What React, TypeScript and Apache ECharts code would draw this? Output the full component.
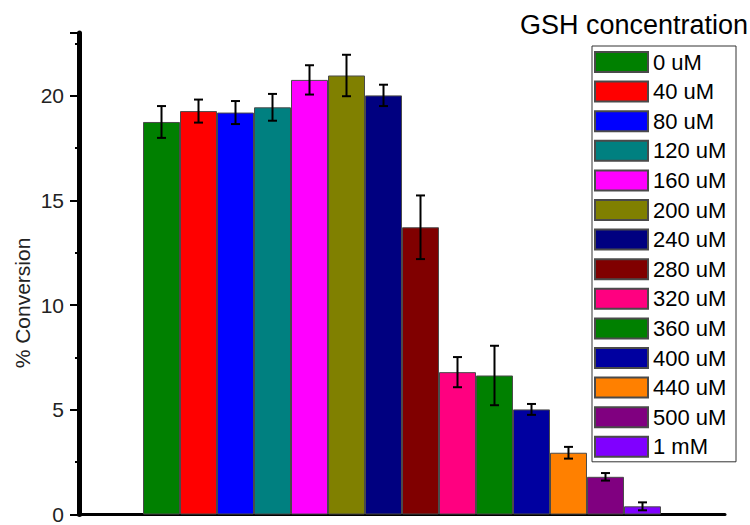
import React, { useEffect, useRef } from "react";
import * as echarts from "echarts";

// GSH concentrations (legend entries), in bar order
const concentrations = [
  "0 uM", "40 uM", "80 uM", "120 uM", "160 uM", "200 uM", "240 uM",
  "280 uM", "320 uM", "360 uM", "400 uM", "440 uM", "500 uM", "1 mM",
];

// Mean % conversion per concentration
const conversion = [18.75, 19.27, 19.2, 19.45, 20.76, 20.97, 20.02, 13.72, 6.8, 6.64, 5.02, 2.95, 1.8, 0.39];

// Error (± half-range) per concentration
const errors = [0.76, 0.55, 0.55, 0.64, 0.7, 0.99, 0.51, 1.52, 0.72, 1.42, 0.26, 0.28, 0.18, 0.19];

const barColors = [
  "#008000", "#FF0000", "#0000FF", "#008080", "#FF00FF", "#808000", "#000080",
  "#800000", "#FF0080", "#008000", "#0000A0", "#FF8000", "#800080", "#8000FF",
];

const yTicks = { min: 0, max: 23, interval: 5 };

const FONT = "'Liberation Sans', Arial, sans-serif";

export default function App() {
  const ref = useRef<HTMLDivElement>(null);

  useEffect(() => {
    if (!ref.current) return;
    const chart = echarts.init(ref.current, null, { renderer: "svg" });

    const barSeries = concentrations.map((name, i) => ({
      name,
      type: "bar",
      data: [[i, conversion[i]]],
      barWidth: 37,
      barGap: "-100%",
      itemStyle: { color: barColors[i], borderColor: "#4a4a4a", borderWidth: 1 },
      z: 2,
    }));

    const errorData = conversion.map((v, i) => [i, v - errors[i], v + errors[i]]);

    const option: any = {
      animation: false,
      backgroundColor: "#ffffff",
      textStyle: { fontFamily: FONT },
      title: {
        text: "GSH concentration",
        right: 2,
        top: 11,
        padding: 0,
        textStyle: { fontFamily: FONT, fontSize: 27, fontWeight: "normal", color: "#000" },
      },
      legend: {
        orient: "vertical",
        left: 592,
        top: 46,
        data: concentrations,
        icon: "rect",
        itemWidth: 53,
        itemHeight: 20,
        itemGap: 7.6,
        padding: [5, 5, 4, 2],
        borderColor: "#333",
        borderWidth: 1,
        backgroundColor: "#ffffff",
        selectedMode: false,
        z: 10,
        textStyle: { fontFamily: FONT, fontSize: 22, color: "#000", lineHeight: 20, height: 20, width: 78 },
      },
      grid: { left: 79, right: 25, top: 33, bottom: 6, containLabel: false },
      xAxis: {
        type: "value",
        min: -2.23,
        max: 15.23,
        axisLine: { show: true, onZero: false, lineStyle: { color: "#000", width: 3 } },
        axisTick: { show: false },
        axisLabel: { show: false },
        splitLine: { show: false },
      },
      yAxis: {
        type: "value",
        position: "left",
        min: yTicks.min,
        max: yTicks.max,
        interval: yTicks.interval,
        z: 3,
        axisLine: { show: true, onZero: false, lineStyle: { color: "#000", width: 5 } },
        axisTick: { show: true, length: 9, lineStyle: { color: "#000", width: 2 } },
        minorTick: { show: true, splitNumber: 2, length: 4, lineStyle: { color: "#000", width: 2 } },
        axisLabel: { fontFamily: FONT, fontSize: 21, color: "#222", margin: 15, showMaxLabel: false },
        splitLine: { show: false },
      },
      graphic: [
        {
          type: "text",
          x: 22,
          y: 303,
          rotation: Math.PI / 2,
          style: {
            text: "% Conversion",
            fontFamily: FONT,
            fontSize: 21,
            fill: "#222",
            align: "center",
            verticalAlign: "middle",
          },
        },
      ],
      series: [
        ...barSeries,
        {
          name: "error",
          type: "custom",
          data: errorData,
          z: 5,
          renderItem: (_params: any, api: any) => {
            const x = api.value(0);
            const lo = api.coord([x, api.value(1)]);
            const hi = api.coord([x, api.value(2)]);
            const cap = 4.5;
            const style = { stroke: "#000", lineWidth: 2 };
            return {
              type: "group",
              children: [
                { type: "line", shape: { x1: lo[0], y1: lo[1], x2: hi[0], y2: hi[1] }, style },
                { type: "line", shape: { x1: hi[0] - cap, y1: hi[1], x2: hi[0] + cap, y2: hi[1] }, style },
                { type: "line", shape: { x1: lo[0] - cap, y1: lo[1], x2: lo[0] + cap, y2: lo[1] }, style },
              ],
            };
          },
        },
      ],
    };

    chart.setOption(option);
    return () => chart.dispose();
  }, []);

  return <div ref={ref} style={{ width: 750, height: 525, position: "absolute", left: 0, top: 0 }} />;
}
